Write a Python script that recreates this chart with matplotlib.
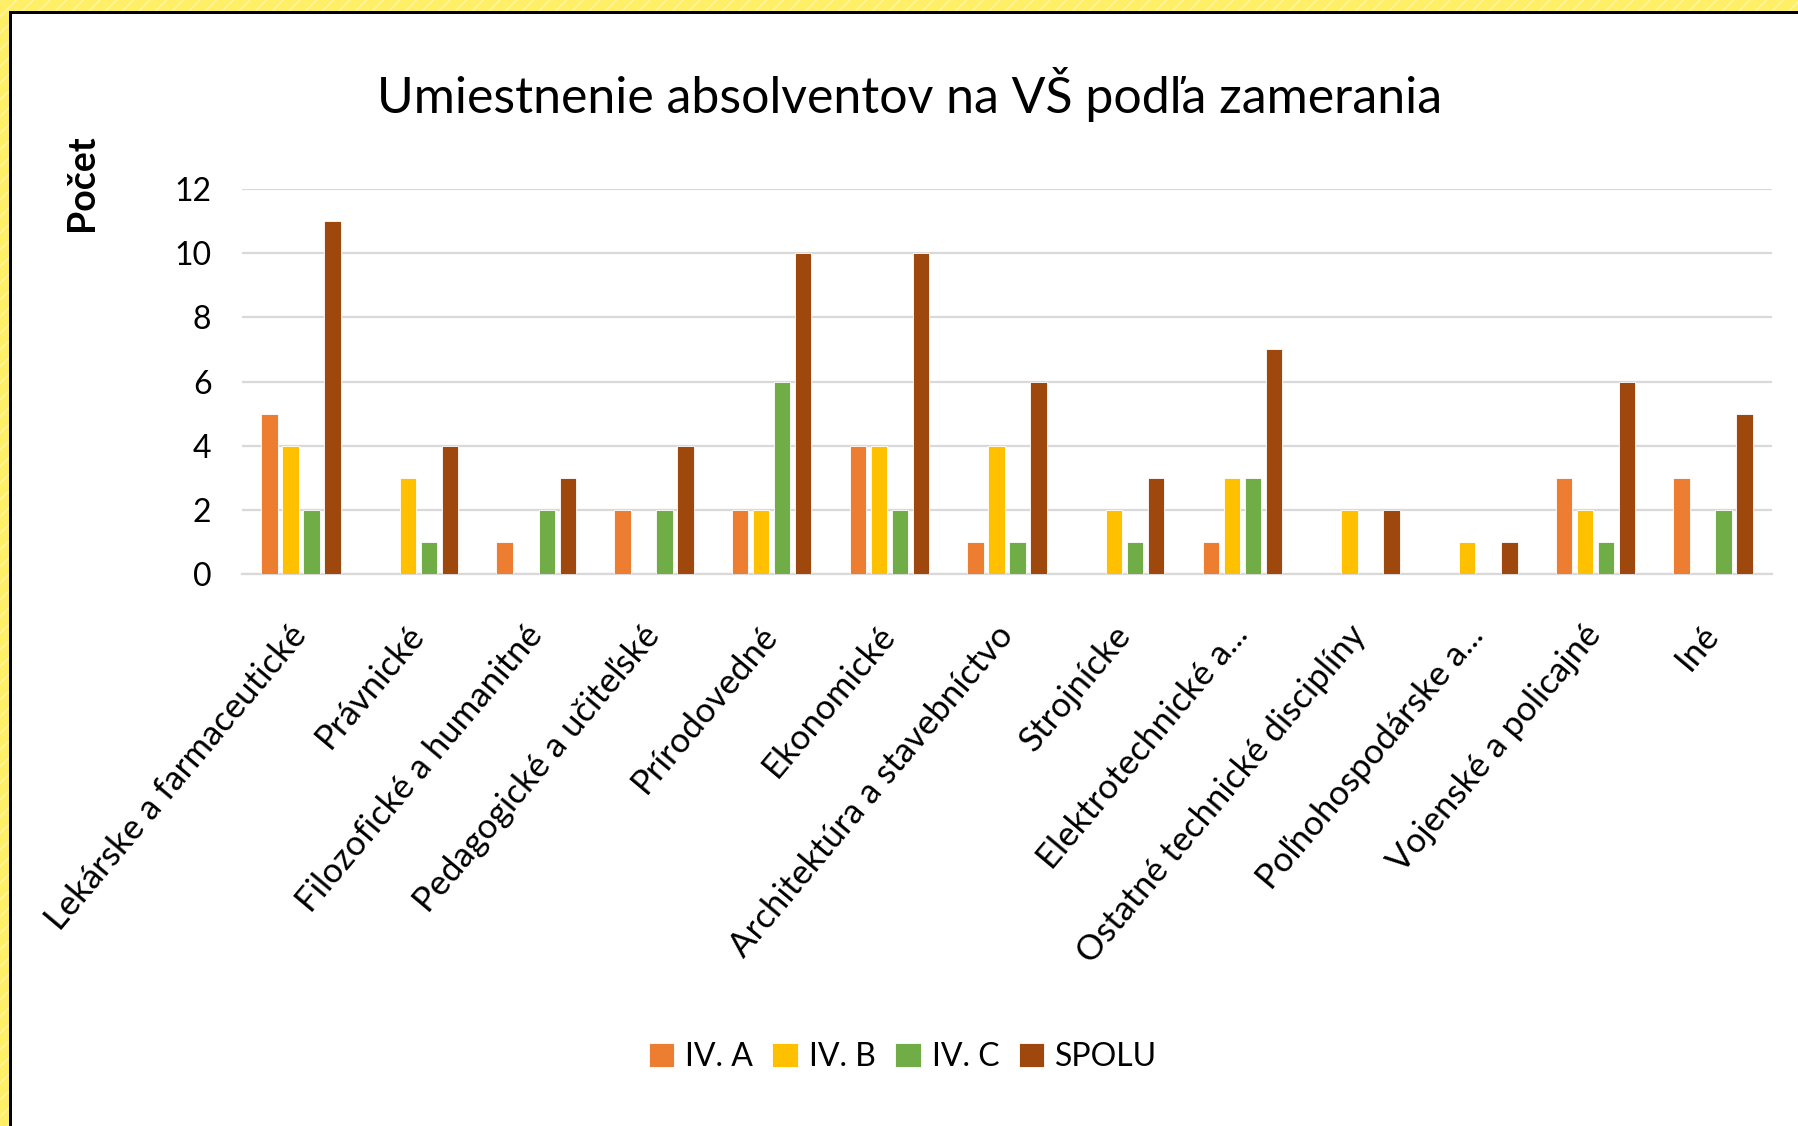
import matplotlib
matplotlib.use('Agg')
import matplotlib.pyplot as plt
from matplotlib.patches import Rectangle
import numpy as np

plt.rcParams['font.family'] = ['Lato', 'DejaVu Sans']

# --- DATA ---
categories = ['Lekárske a farmaceutické', 'Právnické', 'Filozofické a humanitné',
              'Pedagogické a učiteľské', 'Prírodovedné', 'Ekonomické',
              'Architektúra a stavebníctvo', 'Strojnícke', 'Elektrotechnické a...',
              'Ostatné technické disciplíny', 'Poľnohospodárske a...',
              'Vojenské a policajné', 'Iné']
iv_a = [5, 0, 1, 2, 2, 4, 1, 0, 1, 0, 0, 3, 3]
iv_b = [4, 3, 0, 0, 2, 4, 4, 2, 3, 2, 1, 2, 0]
iv_c = [2, 1, 2, 2, 6, 2, 1, 1, 3, 0, 0, 1, 2]
spolu = [11, 4, 3, 4, 10, 10, 6, 3, 7, 2, 1, 6, 5]
series_names = ['IV. A', 'IV. B', 'IV. C', 'SPOLU']
colors = ['#ED7D31', '#FFC000', '#70AD47', '#9E480E']
yticks = [0, 2, 4, 6, 8, 10, 12]

W, H = 1798, 1126
fig = plt.figure(figsize=(W / 100, H / 100), dpi=100)
fig.patch.set_facecolor('white')

# yellow frame (top + left) with black inner line
ylw = dict(facecolor='#FFEF66', edgecolor='#FFF6A8', hatch='//', linewidth=0,
           transform=fig.transFigure, zorder=0)
fig.patches.append(Rectangle((0, 1 - 11 / H), 1, 11 / H, **ylw))
fig.patches.append(Rectangle((0, 0), 9 / W, 1, **ylw))
fig.patches.append(Rectangle((9 / W, 1 - 14 / H), 1, 3 / H, facecolor='black',
                             linewidth=0, transform=fig.transFigure, zorder=1))
fig.patches.append(Rectangle((9 / W, 0), 3 / W, 1 - 11 / H, facecolor='black',
                             linewidth=0, transform=fig.transFigure, zorder=1))

# axes placement
left, right, top, bottom = 242, 1772, 189, 574
ax = fig.add_axes([left / W, 1 - bottom / H, (right - left) / W, (bottom - top) / H])

x = np.arange(len(categories))
pitch = 0.1786
bw = 0.14
for i, (vals, name, col) in enumerate(zip([iv_a, iv_b, iv_c, spolu], series_names, colors)):
    ax.bar(x + (i - 1.5) * pitch, vals, width=bw, color=col, label=name,
           edgecolor='white', linewidth=0.6, zorder=3)

ax.set_xlim(-0.5, len(categories) - 0.5)
ax.set_ylim(0, 12)
ax.set_yticks(yticks)
ax.grid(axis='y', color='#D9D9D9', linewidth=1.6, zorder=0)
ax.set_axisbelow(True)
for s in ['top', 'right', 'left']:
    ax.spines[s].set_visible(False)
ax.spines['bottom'].set_color('#D9D9D9')
ax.spines['bottom'].set_linewidth(1.6)
ax.tick_params(axis='y', length=0, labelsize=23, pad=22)
ax.tick_params(axis='x', length=0, labelsize=25, pad=40)
ax.set_xticks(x)
ax.set_xticklabels(categories, rotation=50, ha='right', va='center',
                   rotation_mode='anchor')

fig.text(910 / W, 1 - 94 / H, 'Umiestnenie absolventov na VŠ podľa zamerania',
         ha='center', va='center', fontsize=36)
fig.text(82 / W, 1 - 183 / H, 'Počet', rotation=90, ha='center', va='center',
         fontsize=27, fontweight='bold')

fig.legend(loc='center', bbox_to_anchor=(903 / W, 1 - 1057 / H), ncol=4,
           frameon=False, fontsize=23, handlelength=0.8, handleheight=0.8,
           handletextpad=0.35, columnspacing=0.6)

plt.savefig('out.png', dpi=100, facecolor=fig.get_facecolor())
